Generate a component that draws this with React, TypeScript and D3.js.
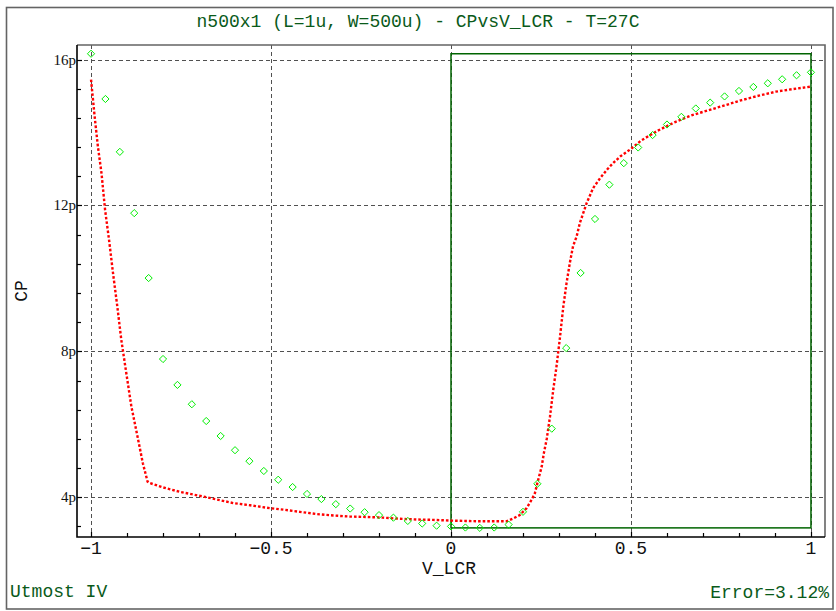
import React from "react";
import * as d3 from "d3";

const titleText = "n500x1 (L=1u, W=500u) - CPvsV_LCR - T=27C";
const xLabel = "V_LCR";
const yLabel = "CP";
const footLeft = "Utmost IV";
const footRight = "Error=3.12%";

const xMajorTicks = [-1, -0.5, 0, 0.5, 1];
const xTickLabels = ["\u22121", "\u22120.5", "0", "0.5", "1"];
const xMinorTicks = [-0.9, -0.8, -0.7, -0.6, -0.4, -0.3, -0.2, -0.1, 0.1, 0.2, 0.3, 0.4, 0.6, 0.7, 0.8, 0.9];
const yMajorTicks = [4, 8, 12, 16];
const yTickLabels = ["4p", "8p", "12p", "16p"];
const yMinorTicks = [3.2, 4.8, 5.6, 6.4, 7.2, 8.8, 9.6, 10.4, 11.2, 12.8, 13.6, 14.4, 15.2];

// measured data (diamonds)
const measV = [
  -1.0, -0.96, -0.92, -0.88, -0.84, -0.8, -0.76, -0.72, -0.68, -0.64, -0.6, -0.56, -0.52, -0.48, -0.44, -0.4, -0.36,
  -0.32, -0.28, -0.24, -0.2, -0.16, -0.12, -0.08, -0.04, 0.0, 0.04, 0.08, 0.12, 0.16, 0.2, 0.24, 0.28, 0.32, 0.36,
  0.4, 0.44, 0.48, 0.52, 0.56, 0.6, 0.64, 0.68, 0.72, 0.76, 0.8, 0.84, 0.88, 0.92, 0.96, 1.0,
];
const measCp = [
  16.16, 14.92, 13.47, 11.79, 10.01, 7.79, 7.08, 6.55, 6.09, 5.68, 5.29, 4.99, 4.72, 4.48, 4.28, 4.09, 3.95,
  3.81, 3.69, 3.59, 3.51, 3.44, 3.35, 3.28, 3.22, 3.2, 3.17, 3.16, 3.17, 3.25, 3.6, 4.37, 5.88, 8.09, 10.15,
  11.63, 12.57, 13.16, 13.59, 13.93, 14.22, 14.43, 14.66, 14.82, 14.99, 15.14, 15.25, 15.35, 15.46, 15.57, 15.65,
];

// simulated curve (red dotted)
const simV = [
  -1.0, -0.99, -0.981, -0.971, -0.961, -0.95, -0.939, -0.927, -0.916, -0.902, -0.888, -0.869, -0.856, -0.843, -0.84,
  -0.8, -0.754, -0.679, -0.605, -0.558, -0.503, -0.466, -0.42, -0.374, -0.327, -0.281, -0.235, -0.189, -0.142, -0.096,
  -0.05, 0.0, 0.04, 0.08, 0.12, 0.154, 0.173, 0.191, 0.21, 0.224, 0.233, 0.242, 0.252, 0.258, 0.266, 0.275, 0.284,
  0.293, 0.302, 0.312, 0.321, 0.33, 0.339, 0.349, 0.358, 0.377, 0.395, 0.415, 0.435, 0.451, 0.471, 0.5, 0.528, 0.574,
  0.621, 0.668, 0.715, 0.762, 0.808, 0.855, 0.902, 0.949, 1.0,
];
const simCp = [
  15.45, 14.44, 13.62, 12.89, 11.88, 11.06, 10.15, 9.23, 8.32, 7.4, 6.49, 5.57, 4.93, 4.43, 4.4,
  4.27, 4.15, 4.0, 3.84, 3.78, 3.7, 3.66, 3.6, 3.54, 3.5, 3.47, 3.46, 3.44, 3.41, 3.39,
  3.38, 3.36, 3.35, 3.34, 3.34, 3.34, 3.42, 3.51, 3.7, 3.93, 4.11, 4.47, 4.84, 5.21, 5.6, 6.21, 6.94,
  7.58, 8.32, 9.23, 9.87, 10.42, 10.88, 11.15, 11.52, 12.07, 12.48, 12.76, 13.0, 13.17, 13.35, 13.55, 13.78, 14.05,
  14.28, 14.47, 14.61, 14.75, 14.89, 15.01, 15.12, 15.19, 15.26,
];

const W = 836;
const H = 611;
const PL = 77;
const PR = 825;
const PT = 45;
const PB = 537;

const mono = "'Liberation Mono', 'Courier New', monospace";
const serif = "'Liberation Serif', 'Times New Roman', serif";
const textGreen = "#0a5a1a";

export default function App() {
  const x = d3.scaleLinear().domain([-1.039, 1.039]).range([PL, PR]);
  const y = d3.scaleLinear().domain([2.91, 16.4]).range([PB, PT]);

  const simPts: [number, number][] = simV.map((v, i) => [v, simCp[i]]);
  const line = d3
    .line<[number, number]>()
    .x((d) => x(d[0]))
    .y((d) => y(d[1]));

  const xMin = d3.min(measV) as number;
  const cpMin = d3.min(measCp) as number;
  const cpMax = d3.max(measCp) as number;
  const boxX0 = x(0);
  const boxX1 = x(1);
  const boxY0 = y(cpMax);
  const boxY1 = y(cpMin);
  void xMin;

  const ds = 3.6;

  return (
    <svg
      width={W}
      height={H}
      style={{ position: "absolute", left: 0, top: 0, background: "#fff" }}
      xmlns="http://www.w3.org/2000/svg"
    >
      <rect x={0} y={0} width={W} height={H} fill="#fff" />
      {/* outer frame */}
      <rect x={6.5} y={7.5} width={826.5} height={601.5} fill="none" stroke="#646464" strokeWidth={1.6} />

      {/* title */}
      <text x={418} y={27} textAnchor="middle" fontFamily={mono} fontSize={18} fill={textGreen}>
        {titleText}
      </text>

      {/* grid */}
      <g stroke="#505050" strokeWidth={1} strokeDasharray="4,3" fill="none">
        {xMajorTicks.map((t) => (
          <line key={"gx" + t} x1={Math.round(x(t)) + 0.5} x2={Math.round(x(t)) + 0.5} y1={PT} y2={PB} />
        ))}
        {yMajorTicks.map((t) => (
          <line key={"gy" + t} x1={PL} x2={PR} y1={Math.round(y(t)) + 0.5} y2={Math.round(y(t)) + 0.5} />
        ))}
      </g>

      {/* green box */}
      <rect
        x={boxX0}
        y={boxY0}
        width={boxX1 - boxX0}
        height={boxY1 - boxY0}
        fill="none"
        stroke="#006400"
        strokeWidth={1.5}
      />

      {/* plot frame top/right */}
      <path d={`M${PL},${PT} H${PR} V${PB}`} fill="none" stroke="#646464" strokeWidth={1.6} />

      {/* ticks */}
      <g stroke="#000" strokeWidth={1.2}>
        {xMinorTicks.map((t) => (
          <line key={"mx" + t} x1={Math.round(x(t)) + 0.5} x2={Math.round(x(t)) + 0.5} y1={PB} y2={PB - 4} />
        ))}
        {xMajorTicks.map((t) => (
          <line key={"Mx" + t} x1={Math.round(x(t)) + 0.5} x2={Math.round(x(t)) + 0.5} y1={PB} y2={PB - 5} />
        ))}
        {yMinorTicks.map((t) => (
          <line key={"my" + t} x1={PL} x2={PL + 4} y1={Math.round(y(t)) + 0.5} y2={Math.round(y(t)) + 0.5} />
        ))}
        {yMajorTicks.map((t) => (
          <line key={"My" + t} x1={PL} x2={PL + 5} y1={Math.round(y(t)) + 0.5} y2={Math.round(y(t)) + 0.5} />
        ))}
      </g>

      {/* axes */}
      <path d={`M${PL},${PT} V${PB} H${PR}`} fill="none" stroke="#000" strokeWidth={1.6} />

      {/* simulated line */}
      <path
        d={line(simPts) || ""}
        fill="none"
        stroke="#ff0000"
        strokeWidth={2.4}
        strokeDasharray="2.6,2"
      />

      {/* measured diamonds */}
      <g fill="none" stroke="#00ee00" strokeWidth={1}>
        {measV.map((v, i) => {
          const cx = x(v);
          const cy = y(measCp[i]);
          return (
            <path
              key={"d" + i}
              d={`M${cx},${cy - ds} L${cx + ds},${cy} L${cx},${cy + ds} L${cx - ds},${cy} Z`}
            />
          );
        })}
      </g>

      {/* tick labels */}
      <g fontFamily={mono} fontSize={18} fill="#111" textAnchor="middle">
        {xMajorTicks.map((t, i) => (
          <text key={"tx" + t} x={x(t)} y={554}>
            {xTickLabels[i]}
          </text>
        ))}
      </g>
      <g fontFamily={serif} fontSize={15} fill="#111" textAnchor="end">
        {yMajorTicks.map((t, i) => (
          <text key={"ty" + t} x={76} y={y(t) + 5}>
            {yTickLabels[i]}
          </text>
        ))}
      </g>

      {/* axis labels */}
      <text x={449} y={574} textAnchor="middle" fontFamily={mono} fontSize={18} fill="#111">
        {xLabel}
      </text>
      <text
        transform="translate(27,291) rotate(-90)"
        textAnchor="middle"
        fontFamily={mono}
        fontSize={18}
        fill="#111"
      >
        {yLabel}
      </text>

      {/* footer */}
      <text x={10} y={597} fontFamily={mono} fontSize={18} fill={textGreen}>
        {footLeft}
      </text>
      <text x={829} y={598} textAnchor="end" fontFamily={mono} fontSize={18} fill={textGreen}>
        {footRight}
      </text>
    </svg>
  );
}
